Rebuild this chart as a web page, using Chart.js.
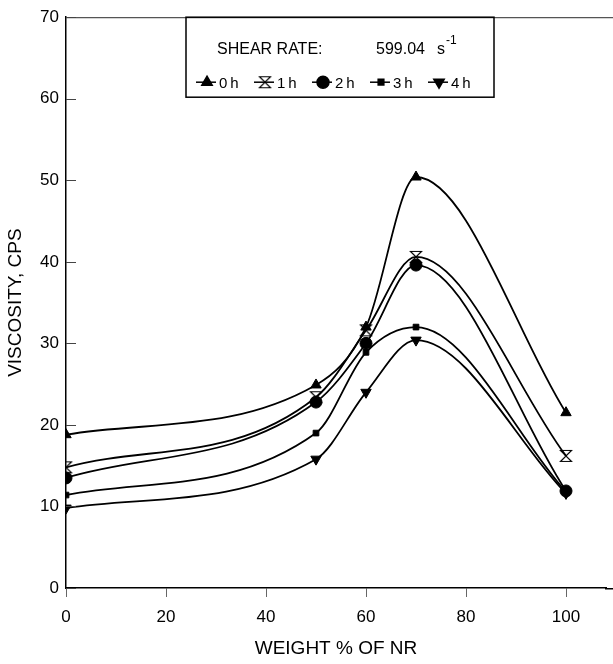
<!DOCTYPE html>
<html>
<head>
<meta charset="utf-8">
<script src="https://cdn.jsdelivr.net/npm/chart.js@4.4.1/dist/chart.umd.min.js"></script>
<style>
  html, body { margin: 0; padding: 0; background: #fff; }
  #wrap { width: 613px; height: 664px; }
</style>
</head>
<body>
<div id="wrap"><canvas id="viscosityChart" width="613" height="664"></canvas></div>
<script>
// viscosity (cps) vs weight % NR, one series per ageing time
const weightNR = [0, 50, 60, 70, 100];
const visc0h = [18.8, 24.9, 32.0, 50.4, 21.5];
const visc1h = [14.8, 23.4, 31.6, 40.6, 16.2];
const visc2h = [13.5, 22.8, 30.0, 39.6, 11.9];
const visc3h = [11.4, 19.0, 28.9, 32.0, 11.8];
const visc4h = [9.8, 15.8, 24.0, 30.4, 11.6];
const seriesLabels = ["0 h", "1 h", "2 h", "3 h", "4 h"];
const xTicks = [0, 20, 40, 60, 80, 100];
const yTicks = [0, 10, 20, 30, 40, 50, 60, 70];

const FONT = "'Liberation Sans', Arial, sans-serif";

// hollow "hourglass" marker used for the 1 h series
function hourglass() {
  const c = document.createElement("canvas");
  c.width = 14; c.height = 14;
  const g = c.getContext("2d");
  g.strokeStyle = "#000";
  g.lineWidth = 1.2;
  g.beginPath();
  g.moveTo(1.5, 1.5); g.lineTo(12.5, 1.5); g.lineTo(7, 7); g.closePath();
  g.moveTo(1.5, 12.5); g.lineTo(12.5, 12.5); g.lineTo(7, 7); g.closePath();
  g.stroke();
  return c;
}

const pts = (ys) => weightNR.map((x, i) => ({ x: x, y: ys[i] }));

function series(label, ys, style, radius, rotation) {
  return {
    label: label,
    data: pts(ys),
    borderColor: "#000",
    backgroundColor: "#000",
    borderWidth: 1.8,
    pointStyle: style,
    pointRadius: radius,
    pointRotation: rotation || 0,
    pointBorderWidth: 1,
    cubicInterpolationMode: "monotone",
    fill: false
  };
}

const datasets = [
  series(seriesLabels[0], visc0h, "triangle", 6),
  series(seriesLabels[1], visc1h, hourglass(), 6),
  series(seriesLabels[2], visc2h, "circle", 6),
  series(seriesLabels[3], visc3h, "rect", 4),
  series(seriesLabels[4], visc4h, "triangle", 6, 180)
];

// frame bits, inward y ticks and the boxed legend
const decorations = {
  id: "decorations",
  afterDraw(chart) {
    const ctx = chart.ctx;
    const a = chart.chartArea;
    const ys = chart.scales.y;
    ctx.save();
    ctx.strokeStyle = "#555";
    ctx.lineWidth = 1.2;
    ctx.beginPath();
    ctx.moveTo(a.left, a.top + 0.5);
    ctx.lineTo(chart.width, a.top + 0.5);
    ctx.stroke();

    // bottom axis runs on to the right edge
    ctx.strokeStyle = "#000";
    ctx.lineWidth = 1.5;
    ctx.beginPath();
    ctx.moveTo(a.right - 1, a.bottom + 0.75);
    ctx.lineTo(chart.width, a.bottom + 0.75);
    ctx.stroke();

    ctx.strokeStyle = "#444";
    ctx.lineWidth = 1;
    yTicks.forEach((v) => {
      const py = Math.round(ys.getPixelForValue(v)) + 0.5;
      ctx.beginPath();
      ctx.moveTo(a.left, py);
      ctx.lineTo(a.left + 10, py);
      ctx.stroke();
    });

    // legend box
    const bx = a.left + 120, by = a.top, bw = 308, bh = 80;
    ctx.strokeStyle = "#000";
    ctx.lineWidth = 1.5;
    ctx.strokeRect(bx, by, bw, bh);

    ctx.fillStyle = "#000";
    ctx.textBaseline = "alphabetic";
    ctx.font = "16px " + FONT;
    ctx.fillText("SHEAR RATE:", bx + 31, by + 37);
    ctx.fillText("599.04", bx + 190, by + 37);
    ctx.fillText("s", bx + 251, by + 37);
    ctx.font = "12px " + FONT;
    ctx.fillText("-1", bx + 260, by + 27);

    ctx.font = "15px " + FONT;
    const rowY = by + 65;
    chart.data.datasets.forEach((ds, i) => {
      const mx = bx + 21 + i * 58;
      ctx.strokeStyle = "#000";
      ctx.lineWidth = 1.5;
      ctx.beginPath();
      ctx.moveTo(mx - 11, rowY);
      ctx.lineTo(mx + 9, rowY);
      ctx.stroke();
      Chart.helpers.drawPoint(ctx, {
        pointStyle: ds.pointStyle,
        radius: ds.pointRadius,
        rotation: ds.pointRotation,
        borderWidth: 1
      }, mx, rowY);
      ctx.fillStyle = "#000";
      ctx.fillText(ds.label.replace(" ", "\u2009"), mx + 12, rowY + 6);
    });
    ctx.restore();
  }
};

const chart = new Chart(document.getElementById("viscosityChart"), {
  type: "line",
  data: { datasets: datasets },
  plugins: [decorations],
  options: {
    responsive: false,
    animation: false,
    layout: { padding: { top: 17, right: 0, left: 0, bottom: 0 } },
    plugins: { legend: { display: false }, tooltip: { enabled: false } },
    scales: {
      x: {
        type: "linear",
        min: 0,
        max: 108,
        afterBuildTicks: (s) => { s.ticks = xTicks.map((v) => ({ value: v })); },
        afterFit: (s) => { s.height = 76; },
        grid: { drawOnChartArea: false, drawTicks: true, tickLength: 9, color: "#666" },
        border: { color: "#000", width: 1.5 },
        ticks: { color: "#000", font: { family: FONT, size: 17 }, padding: 10, maxRotation: 0 },
        title: {
          display: true,
          text: "WEIGHT % OF NR",
          color: "#000",
          font: { family: FONT, size: 19 },
          padding: { top: 2 }
        }
      },
      y: {
        min: 0,
        max: 70,
        afterBuildTicks: (s) => { s.ticks = yTicks.map((v) => ({ value: v })); },
        afterFit: (s) => { s.width = 66; },
        grid: { drawOnChartArea: false, drawTicks: false },
        border: { color: "#000", width: 1.5 },
        ticks: { color: "#000", font: { family: FONT, size: 17 }, padding: 7 },
        title: {
          display: true,
          text: "VISCOSITY, CPS",
          color: "#000",
          font: { family: FONT, size: 19 },
          padding: { bottom: 6 }
        }
      }
    }
  }
});
</script>
</body>
</html>
